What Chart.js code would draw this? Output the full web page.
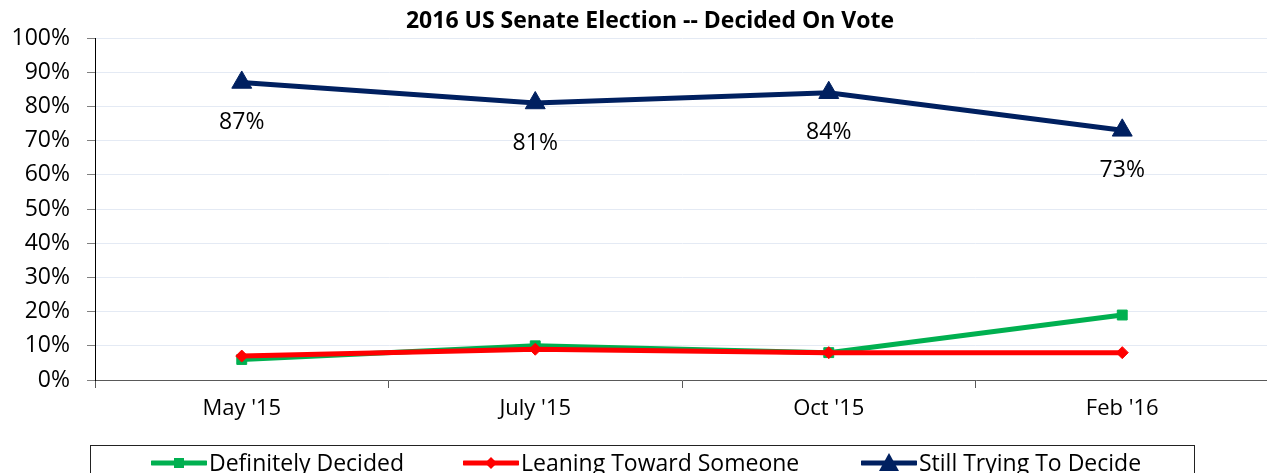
<!DOCTYPE html>
<html>
<head>
<meta charset="utf-8">
<script src="https://cdn.jsdelivr.net/npm/chart.js@4"></script>
<style>
  html, body { margin: 0; padding: 0; background: #fff; overflow: hidden; }
  #wrap { position: relative; width: 1300px; height: 473px; }
  #legend {
    position: absolute; left: 90px; top: 445px; width: 1105px; height: 60px;
    border: 1px solid #222; box-sizing: border-box;
    font-family: "Open Sans", sans-serif; font-size: 23px; color: #000;
  }
  .item { position: absolute; top: 0px; white-space: nowrap; }
  .item svg { vertical-align: middle; margin-right: 2px; position: relative; top: -2px; }
</style>
</head>
<body>
<div id="wrap">
  <canvas id="grafico" width="1300" height="473"></canvas>
  <div id="legend"></div>
</div>
<script>
'use strict';

// Dati
const categorie = ["May '15", "July '15", "Oct '15", "Feb '16"];
const deciso     = [6, 10, 8, 19];   // Definitely Decided
const propenso   = [7, 9, 8, 8];     // Leaning Toward Someone
const indeciso   = [87, 81, 84, 73]; // Still Trying To Decide
const yTicks     = [0, 10, 20, 30, 40, 50, 60, 70, 80, 90, 100];
const titolo     = '2016 US Senate Election -- Decided On Vote';

const FONT = '"Open Sans", sans-serif';
const NAVY = '#002060', GREEN = '#00B050', RED = '#FF0000';

// Titolo disegnato a mano: nell'originale non è centrato sull'area del grafico
const titoloPlugin = {
  id: 'titolo',
  afterDraw(chart) {
    const ctx = chart.ctx;
    ctx.save();
    ctx.font = 'bold 23px ' + FONT;
    ctx.fillStyle = '#000';
    ctx.textAlign = 'center';
    ctx.textBaseline = 'middle';
    ctx.fillText(titolo, 650, 21);
    ctx.restore();
  }
};

// Etichette valori sotto i triangoli della serie "Still Trying"
const etichette = {
  id: 'etichette',
  afterDatasetsDraw(chart) {
    const meta = chart.getDatasetMeta(2);
    const ctx = chart.ctx;
    ctx.save();
    ctx.font = '23px ' + FONT;
    ctx.fillStyle = '#000';
    ctx.textAlign = 'center';
    ctx.textBaseline = 'middle';
    meta.data.forEach((pt, i) => {
      ctx.fillText(indeciso[i] + '%', pt.x, pt.y + 40);
    });
    ctx.restore();
  }
};

const chart = new Chart(document.getElementById('grafico').getContext('2d'), {
  type: 'line',
  data: {
    labels: categorie,
    datasets: [
      { label: 'Definitely Decided', data: deciso, borderColor: GREEN, backgroundColor: GREEN,
        borderWidth: 5, pointStyle: 'rect', pointRadius: 7, pointBorderWidth: 1, order: 2 },
      { label: 'Leaning Toward Someone', data: propenso, borderColor: RED, backgroundColor: RED,
        borderWidth: 5, pointStyle: 'rectRot', pointRadius: 6, pointBorderWidth: 1, order: 1 },
      { label: 'Still Trying To Decide', data: indeciso, borderColor: NAVY, backgroundColor: NAVY,
        borderWidth: 5, pointStyle: 'triangle', pointRadius: 11.5, pointBorderWidth: 1, order: 0 }
    ]
  },
  options: {
    responsive: false,
    animation: false,
    layout: { padding: { left: 0, right: 31, top: 38, bottom: 33 } },
    elements: { line: { tension: 0 } },
    plugins: {
      legend: { display: false },
      tooltip: { enabled: false },
      title: { display: false }
    },
    scales: {
      x: {
        offset: true,
        border: { color: '#595959', width: 1 },
        grid: { offset: true, drawOnChartArea: false, drawTicks: true, tickLength: 8, tickColor: '#595959' },
        ticks: { color: '#000', font: { family: FONT, size: 22 }, padding: 8, maxRotation: 0 },
        afterFit(s) { s.height = 60; }
      },
      y: {
        min: 0, max: 100,
        border: { color: '#000', width: 1 },
        grid: { color: '#E4EAF4', tickLength: 8, tickColor: '#808080' },
        afterBuildTicks(s) { s.ticks = yTicks.map(v => ({ value: v })); },
        ticks: { color: '#000', font: { family: FONT, size: 23 }, padding: 17, callback: v => v + '%' },
        afterFit(s) { s.width = 95; }
      }
    }
  },
  plugins: [etichette, titoloPlugin]
});

// Legenda HTML (in basso, riquadro come nell'originale)
const legenda = [
  { text: 'Definitely Decided',     color: GREEN, marker: 'rect',     x: 60 },
  { text: 'Leaning Toward Someone', color: RED,   marker: 'diamond',  x: 372 },
  { text: 'Still Trying To Decide', color: NAVY,  marker: 'triangle', x: 770 }
];
const box = document.getElementById('legend');
legenda.forEach(l => {
  let m = '';
  if (l.marker === 'rect') m = `<rect x="23" y="6" width="10" height="10" fill="${l.color}"/>`;
  if (l.marker === 'diamond') m = `<polygon points="28,5 34,11 28,17 22,11" fill="${l.color}"/>`;
  if (l.marker === 'triangle') m = `<polygon points="28,1 38,19 18,19" fill="${l.color}"/>`;
  const d = document.createElement('div');
  d.className = 'item';
  d.style.left = l.x + 'px';
  d.innerHTML = `<svg width="56" height="22" viewBox="0 0 56 22"><line x1="1" y1="11" x2="55" y2="11" stroke="${l.color}" stroke-width="5" stroke-linecap="round"/>${m}</svg>${l.text}`;
  box.appendChild(d);
});
</script>
</body>
</html>
